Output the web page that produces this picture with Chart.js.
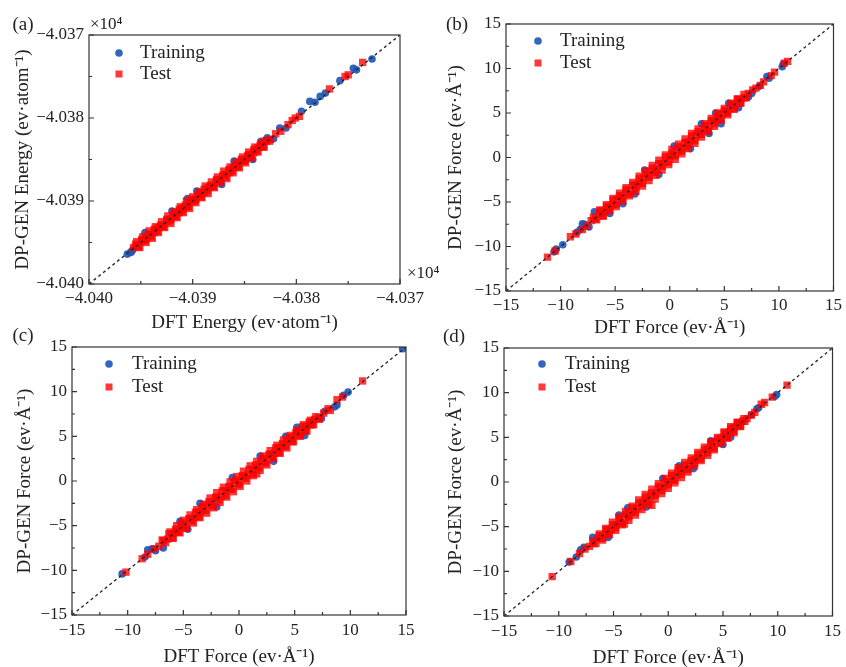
<!DOCTYPE html>
<html>
<head>
<meta charset="utf-8">
<script src="https://cdn.jsdelivr.net/npm/chart.js@4.4.0/dist/chart.umd.min.js"></script>
<style>
  body { margin: 0; background: #fff; }
  #wrap { position: relative; width: 846px; height: 667px; overflow: hidden; background: #fff; }
  canvas { position: absolute; }
</style>
</head>
<body>
<div id="wrap">
  <canvas id="pa" width="445" height="340" style="left:0;top:0"></canvas>
  <canvas id="pb" width="416" height="340" style="left:430px;top:0"></canvas>
  <canvas id="pc" width="430" height="349" style="left:0;top:318px"></canvas>
  <canvas id="pd" width="416" height="349" style="left:430px;top:318px"></canvas>
</div>
<script>
const seriesNames = ['Training', 'Test'];
const panelTags = ['(a)', '(b)', '(c)', '(d)'];

const energyTicks = [-40400, -40390, -40380, -40370];
const energyMinor = [-40395, -40385, -40375];
const forceTicks = [-15, -10, -5, 0, 5, 10, 15];
const forceMinor = [-12.5, -7.5, -2.5, 2.5, 7.5, 12.5];

const energyTitleX = 'DFT Energy (ev·atom⁻¹)';
const energyTitleY = 'DP-GEN Energy (ev·atom⁻¹)';
const forceTitleX = 'DFT Force (ev·Å⁻¹)';
const forceTitleY = 'DP-GEN Force (ev·Å⁻¹)';

// (a) energies, eV/atom (axis shows them in units of 10^4)
const energyTrain = [
  [-40396.3,-40396.4],[-40396.0,-40396.2],[-40395.8,-40395.9],[-40395.9,-40396.1],
  [-40394.6,-40393.8],[-40392.0,-40391.2],[-40390.5,-40389.7],[-40389.6,-40388.8],
  [-40387.2,-40388.0],[-40386.0,-40385.2],[-40384.2,-40385.0],[-40383.4,-40382.8],
  [-40382.8,-40382.4],[-40382.2,-40382.5],[-40381.6,-40381.2],[-40381.0,-40381.2],
  [-40379.5,-40379.2],[-40378.7,-40378.0],[-40378.2,-40378.1],[-40377.7,-40377.4],
  [-40377.2,-40377.0],[-40375.8,-40375.5],[-40374.5,-40374.0],[-40374.2,-40374.2],
  [-40372.7,-40372.9]
];
const energyTest = [
  [-40395.7,-40395.6],[-40395.3,-40395.4],[-40394.9,-40394.8],[-40394.5,-40394.6],[-40394.1,-40394.0],
  [-40393.7,-40393.8],[-40393.3,-40393.2],[-40392.9,-40393.0],[-40392.5,-40392.4],[-40392.1,-40392.2],
  [-40391.7,-40391.6],[-40391.3,-40391.4],[-40390.9,-40390.8],[-40390.5,-40390.6],[-40390.1,-40390.0],
  [-40389.7,-40389.8],[-40389.3,-40389.2],[-40388.9,-40389.0],[-40388.5,-40388.4],[-40388.1,-40388.2],
  [-40387.7,-40387.6],[-40387.3,-40387.4],[-40386.9,-40386.8],[-40386.5,-40386.6],[-40386.1,-40386.0],
  [-40385.7,-40385.8],[-40385.3,-40385.2],[-40384.9,-40385.0],[-40384.5,-40384.4],[-40384.1,-40384.2],
  [-40383.7,-40383.6],[-40383.3,-40383.4],[-40382.9,-40382.8],[-40382.5,-40382.6],
  [-40395.4,-40394.9],[-40394.8,-40394.3],[-40394.2,-40393.6],[-40393.6,-40393.1],[-40393.0,-40392.5],
  [-40392.4,-40391.8],[-40391.8,-40391.3],[-40391.2,-40390.7],[-40390.6,-40390.0],[-40390.0,-40389.5],
  [-40389.4,-40388.9],[-40388.8,-40388.2],[-40388.2,-40387.7],[-40387.6,-40387.1],[-40387.0,-40386.4],
  [-40386.4,-40385.9],[-40385.8,-40385.3],[-40385.2,-40384.7],[-40384.6,-40384.1],[-40384.0,-40383.5],
  [-40383.4,-40383.0],
  [-40395.1,-40395.6],[-40394.5,-40395.0],[-40393.9,-40394.5],[-40393.3,-40393.8],[-40392.7,-40393.2],
  [-40392.1,-40392.7],[-40391.5,-40392.0],[-40390.9,-40391.4],[-40390.3,-40390.9],[-40389.7,-40390.2],
  [-40389.1,-40389.6],[-40388.5,-40389.1],[-40387.9,-40388.4],[-40387.3,-40387.8],[-40386.7,-40387.3],
  [-40386.1,-40386.6],[-40385.5,-40386.0],[-40384.9,-40385.4],[-40384.3,-40384.8],[-40383.7,-40384.1],
  [-40383.1,-40383.5],
  [-40395.5,-40395.2],[-40394.9,-40394.6],[-40394.3,-40394.1],[-40393.7,-40393.4],[-40393.1,-40392.9],
  [-40392.5,-40392.2],[-40391.9,-40391.7],[-40391.3,-40391.0],[-40390.7,-40390.5],[-40390.1,-40389.8],
  [-40389.5,-40389.3],[-40388.9,-40388.6],[-40388.3,-40388.1],[-40387.7,-40387.4],[-40387.1,-40386.9],
  [-40386.5,-40386.2],[-40385.9,-40385.7],[-40385.3,-40385.0],[-40384.7,-40384.5],[-40384.1,-40383.8],
  [-40383.5,-40383.3],[-40382.9,-40382.7],
  [-40395.2,-40395.5],[-40394.6,-40394.8],[-40394.0,-40394.3],[-40393.4,-40393.6],[-40392.8,-40393.1],
  [-40392.2,-40392.4],[-40391.6,-40391.9],[-40391.0,-40391.2],[-40390.4,-40390.7],[-40389.8,-40390.0],
  [-40389.2,-40389.5],[-40388.6,-40388.8],[-40388.0,-40388.3],[-40387.4,-40387.6],[-40386.8,-40387.1],
  [-40386.2,-40386.4],[-40385.6,-40385.9],[-40385.0,-40385.2],[-40384.4,-40384.7],[-40383.8,-40384.0],
  [-40383.2,-40383.5],[-40382.6,-40382.8],
  [-40382.0,-40381.9],[-40381.5,-40381.6],[-40380.8,-40380.8],[-40380.4,-40380.3],[-40380.1,-40380.0],
  [-40379.7,-40379.8],[-40376.8,-40376.5],[-40375.3,-40375.0],[-40375.0,-40374.8],[-40373.6,-40373.3]
];

// (b) forces
const forceBTrain = [
  [-10.6,-10.6],[-10.4,-10.3],[-9.8,-9.8],[-8.5,-8.4],[-8.2,-8.1],[-8.0,-7.45],[-7.8,-7.5],
  [-7.4,-7.8],[-6.9,-6.1],[-5.5,-6.3],[-4.3,-5.2],[-3.2,-4.1],[-2.3,-1.4],[-1.0,-1.9],
  [0.4,1.3],[1.9,1.0],[2.9,3.8],[3.6,2.7],[4.7,3.8],[4.2,5.0],[5.4,6.1],[6.3,5.6],
  [7.2,6.8],[7.5,7.2],[8.2,8.0],[8.9,9.1],[9.1,8.9],[10.3,10.2],[10.4,10.5]
];
const forceBTest = [
  [-7.6,-7.7],[-7.2,-7.1],[-6.8,-6.9],[-6.4,-6.3],[-6.0,-6.1],[-5.6,-5.5],[-5.2,-5.3],[-4.8,-4.7],
  [-4.4,-4.5],[-4.0,-3.9],[-3.6,-3.7],[-3.2,-3.1],[-2.8,-2.9],[-2.4,-2.3],[-2.0,-2.1],[-1.6,-1.5],
  [-1.2,-1.3],[-0.8,-0.7],[-0.4,-0.5],[0.0,0.1],[0.4,0.3],[0.8,0.9],[1.2,1.1],[1.6,1.7],
  [2.0,1.9],[2.4,2.5],[2.8,2.7],[3.2,3.3],[3.6,3.5],[4.0,4.1],[4.4,4.3],[4.8,4.9],
  [5.2,5.1],[5.6,5.7],[6.0,5.9],[6.4,6.5],[6.8,6.7],[7.2,7.2],
  [-6.4,-5.9],[-5.8,-5.3],[-5.2,-4.6],[-4.6,-4.0],[-4.0,-3.4],[-3.4,-2.8],[-2.8,-2.1],[-2.2,-1.5],
  [-1.6,-0.9],[-1.0,-0.3],[-0.4,0.3],[0.2,0.9],[0.8,1.5],[1.4,2.1],[2.0,2.7],[2.6,3.2],
  [3.2,3.8],[3.8,4.4],[4.4,5.0],[5.0,5.5],[5.6,6.1],[6.2,6.6],
  [-6.1,-6.6],[-5.5,-6.0],[-4.9,-5.5],[-4.3,-4.9],[-3.7,-4.3],[-3.1,-3.8],[-2.5,-3.2],[-1.9,-2.6],
  [-1.3,-2.0],[-0.7,-1.4],[-0.1,-0.8],[0.5,-0.2],[1.1,0.4],[1.7,1.0],[2.3,1.6],[2.9,2.3],
  [3.5,2.9],[4.1,3.5],[4.7,4.2],[5.3,4.8],[5.9,5.4],[6.5,6.1],
  [-7.0,-6.7],[-6.4,-6.0],[-5.8,-5.5],[-5.2,-4.8],[-4.6,-4.3],[-4.0,-3.6],[-3.4,-3.1],[-2.8,-2.4],
  [-2.2,-1.9],[-1.6,-1.2],[-1.0,-0.7],[-0.4,0.0],[0.2,0.5],[0.8,1.2],[1.4,1.7],[2.0,2.4],
  [2.6,2.9],[3.2,3.6],[3.8,4.1],[4.4,4.8],[5.0,5.3],[5.6,6.0],[6.2,6.5],[6.8,7.1],
  [-6.7,-7.0],[-6.1,-6.5],[-5.5,-5.8],[-4.9,-5.3],[-4.3,-4.6],[-3.7,-4.1],[-3.1,-3.4],[-2.5,-2.9],
  [-1.9,-2.2],[-1.3,-1.7],[-0.7,-1.0],[-0.1,-0.5],[0.5,0.2],[1.1,0.7],[1.7,1.4],[2.3,1.9],
  [2.9,2.6],[3.5,3.1],[4.1,3.8],[4.7,4.3],[5.3,5.0],[5.9,5.5],[6.5,6.2],[7.0,6.7],
  [-11.2,-11.2],[-10.5,-10.5],[-9.1,-8.9],[-8.6,-8.6],[-8.0,-8.1],[7.6,7.6],[7.9,7.8],
  [8.3,8.1],[8.6,8.5],[9.3,9.2],[9.6,9.6],[10.5,10.6],[10.8,10.8]
];

// (c) forces
const forceCTrain = [
  [14.7,14.8],[9.8,9.95],[9.4,9.6],[8.8,8.5],[8.6,8.3],[5.2,6.0],[-0.6,0.4],[-3.5,-2.5],
  [-10.5,-10.4],[-8.45,-8.5],[-8.2,-7.7],[-7.8,-7.6],[-7.5,-7.8],[-6.8,-7.5],[-5.3,-4.5],
  [-4.6,-5.4],[-2.0,-2.9],[1.9,2.8],[3.1,2.2],[4.2,5.0],[5.9,5.1],[6.5,6.6],[7.4,7.0],[7.7,7.8]
];
const forceCTest = [
  [-7.2,-7.3],[-6.8,-6.7],[-6.4,-6.5],[-6.0,-5.9],[-5.6,-5.7],[-5.2,-5.1],[-4.8,-4.9],[-4.4,-4.3],
  [-4.0,-4.1],[-3.6,-3.5],[-3.2,-3.3],[-2.8,-2.7],[-2.4,-2.5],[-2.0,-1.9],[-1.6,-1.7],[-1.2,-1.1],
  [-0.8,-0.9],[-0.4,-0.3],[0.0,-0.1],[0.4,0.5],[0.8,0.7],[1.2,1.3],[1.6,1.5],[2.0,2.1],
  [2.4,2.3],[2.8,2.9],[3.2,3.1],[3.6,3.7],[4.0,3.9],[4.4,4.5],[4.8,4.7],[5.2,5.3],
  [5.6,5.5],[6.0,6.1],[6.4,6.3],[6.8,6.9],[7.2,7.1],[7.6,7.6],
  [-6.2,-5.7],[-5.6,-5.0],[-5.0,-4.4],[-4.4,-3.8],[-3.8,-3.2],[-3.2,-2.6],[-2.6,-1.9],[-2.0,-1.3],
  [-1.4,-0.7],[-0.8,-0.1],[-0.2,0.5],[0.4,1.1],[1.0,1.7],[1.6,2.2],[2.2,2.8],[2.8,3.4],
  [3.4,4.0],[4.0,4.6],[4.6,5.1],[5.2,5.7],[5.8,6.3],[6.4,6.8],
  [-5.9,-6.4],[-5.3,-5.8],[-4.7,-5.3],[-4.1,-4.7],[-3.5,-4.1],[-2.9,-3.6],[-2.3,-3.0],[-1.7,-2.4],
  [-1.1,-1.8],[-0.5,-1.2],[0.1,-0.6],[0.7,0.0],[1.3,0.6],[1.9,1.2],[2.5,1.8],[3.1,2.5],
  [3.7,3.1],[4.3,3.7],[4.9,4.4],[5.5,5.0],[6.1,5.6],[6.7,6.3],
  [-6.9,-6.6],[-6.3,-5.9],[-5.7,-5.4],[-5.1,-4.7],[-4.5,-4.2],[-3.9,-3.5],[-3.3,-3.0],[-2.7,-2.3],
  [-2.1,-1.8],[-1.5,-1.1],[-0.9,-0.6],[-0.3,0.1],[0.3,0.6],[0.9,1.3],[1.5,1.8],[2.1,2.5],
  [2.7,3.0],[3.3,3.7],[3.9,4.2],[4.5,4.9],[5.1,5.4],[5.7,6.1],[6.3,6.6],[6.9,7.2],
  [-6.6,-6.9],[-6.0,-6.4],[-5.4,-5.7],[-4.8,-5.2],[-4.2,-4.5],[-3.6,-4.0],[-3.0,-3.3],[-2.4,-2.8],
  [-1.8,-2.1],[-1.2,-1.6],[-0.6,-0.9],[0.0,-0.4],[0.6,0.3],[1.2,0.8],[1.8,1.5],[2.4,2.0],
  [3.0,2.7],[3.6,3.2],[4.2,3.9],[4.8,4.4],[5.4,5.1],[6.0,5.6],[6.6,6.3],[7.2,6.9],
  [-10.15,-10.2],[-8.7,-8.7],[-8.2,-8.2],[-7.6,-7.6],[1.6,0.8],[8.0,8.1],[8.2,7.9],
  [8.8,9.1],[9.3,9.4],[11.1,11.2]
];

// (d) forces
const forceDTrain = [
  [-9.05,-8.95],[-8.4,-8.4],[-8.0,-7.6],[-7.7,-7.3],[-6.9,-6.2],[-5.5,-6.2],[-4.5,-3.7],
  [-3.7,-2.9],[-2.0,-2.8],[-0.5,0.4],[1.0,1.8],[2.3,1.5],[3.9,4.6],[5.0,4.2],[5.7,5.0],
  [6.4,6.6],[7.6,7.5],[8.1,8.2],[8.25,8.3],[9.75,9.6],[9.9,9.8]
];
const forceDTest = [
  [-7.2,-7.2],[-6.8,-6.9],[-6.4,-6.3],[-6.0,-6.1],[-5.6,-5.5],[-5.2,-5.3],[-4.8,-4.8],[-4.4,-4.5],
  [-4.0,-3.9],[-3.6,-3.7],[-3.2,-3.2],[-2.8,-2.9],[-2.4,-2.3],[-2.0,-2.1],[-1.6,-1.6],[-1.2,-1.3],
  [-0.8,-0.7],[-0.4,-0.5],[0.0,0.0],[0.4,0.3],[0.8,0.8],[1.2,1.3],[1.6,1.5],[2.0,2.0],
  [2.4,2.5],[2.8,2.7],[3.2,3.2],[3.6,3.7],[4.0,3.9],[4.4,4.4],[4.8,4.9],[5.2,5.1],
  [5.6,5.6],[6.0,6.1],[6.4,6.3],[6.8,6.8],[7.2,7.1],
  [-6.3,-5.8],[-5.7,-5.2],[-5.1,-4.5],[-4.5,-3.9],[-3.9,-3.3],[-3.3,-2.7],[-2.7,-2.0],[-2.1,-1.4],
  [-1.5,-0.8],[-0.9,-0.2],[-0.3,0.4],[0.3,1.0],[0.9,1.6],[1.5,2.2],[2.1,2.7],[2.7,3.3],
  [3.3,3.9],[3.9,4.5],[4.5,5.0],[5.1,5.6],[5.7,6.2],[6.3,6.7],
  [-6.0,-6.5],[-5.4,-5.9],[-4.8,-5.4],[-4.2,-4.8],[-3.6,-4.3],[-3.0,-3.7],[-2.4,-3.1],[-1.8,-2.5],
  [-1.2,-1.9],[-0.6,-1.3],[0.0,-0.7],[0.6,-0.1],[1.2,0.5],[1.8,1.1],[2.4,1.8],[3.0,2.4],
  [3.6,3.0],[4.2,3.6],[4.8,4.3],[5.4,4.9],[6.0,5.5],[6.6,6.2],
  [-6.9,-6.6],[-6.3,-6.0],[-5.7,-5.3],[-5.1,-4.8],[-4.5,-4.1],[-3.9,-3.6],[-3.3,-2.9],[-2.7,-2.4],
  [-2.1,-1.7],[-1.5,-1.2],[-0.9,-0.5],[-0.3,0.0],[0.3,0.7],[0.9,1.2],[1.5,1.9],[2.1,2.4],
  [2.7,3.1],[3.3,3.6],[3.9,4.3],[4.5,4.8],[5.1,5.5],[5.7,6.0],[6.3,6.6],[6.9,7.1],
  [-6.6,-6.9],[-6.0,-6.3],[-5.4,-5.8],[-4.8,-5.1],[-4.2,-4.6],[-3.6,-3.9],[-3.0,-3.4],[-2.4,-2.7],
  [-1.8,-2.2],[-1.2,-1.5],[-0.6,-1.0],[0.0,-0.3],[0.6,0.2],[1.2,0.9],[1.8,1.4],[2.4,2.1],
  [3.0,2.6],[3.6,3.3],[4.2,3.8],[4.8,4.5],[5.4,5.0],[6.0,5.7],[6.6,6.3],[7.0,6.8],
  [-10.6,-10.6],[-8.9,-8.9],[-8.1,-8.0],[-7.6,-7.5],[-4.0,-4.7],[-1.5,-2.6],[7.6,7.5],
  [7.9,7.8],[8.5,8.7],[8.8,8.9],[9.5,9.5],[10.85,10.85]
];

const BLUE = 'rgba(32, 88, 185, 0.92)';
const RED = 'rgba(255, 0, 0, 0.78)';
const SERIF = '"Liberation Serif", "Times New Roman", serif';

Chart.defaults.font.family = SERIF;
Chart.defaults.color = '#222';

const minus = s => String(s).replace('-', '−');
const fmtForce = v => minus(v);
const fmtEnergy = v => minus((v / 1e4).toFixed(3));

// box, inward ticks, legend and free texts
const decor = {
  id: 'decor',
  afterDatasetsDraw(chart, args, o) {
    const { ctx, chartArea: a, scales: { x, y } } = chart;
    ctx.save();
    ctx.strokeStyle = '#333';
    ctx.lineWidth = 1.2;
    ctx.beginPath();
    const mark = (v, len) => {
      const px = x.getPixelForValue(v), py = y.getPixelForValue(v);
      ctx.moveTo(px, a.bottom); ctx.lineTo(px, a.bottom - len);
      ctx.moveTo(a.left, py); ctx.lineTo(a.left + len, py);
    };
    o.major.forEach(v => mark(v, 5));
    o.minor.forEach(v => mark(v, 3));
    ctx.stroke();
    ctx.strokeRect(a.left, a.top, a.width, a.height);

    // legend
    const lg = o.legend;
    ctx.font = '19px ' + SERIF;
    ctx.textBaseline = 'middle';
    ctx.textAlign = 'left';
    chart.data.datasets.filter(d => d.label).forEach((d, i) => {
      const mx = a.left + lg.dx, my = a.top + lg.dy + i * lg.gap;
      ctx.fillStyle = d.backgroundColor;
      if (d.pointStyle === 'rect') {
        ctx.fillRect(mx - 3.5, my - 3.5, 7, 7);
      } else {
        ctx.beginPath(); ctx.arc(mx, my, 3.8, 0, Math.PI * 2); ctx.fill();
      }
      ctx.fillStyle = '#222';
      ctx.fillText(d.label, mx + lg.textGap, my);
    });

    o.texts.forEach(t => {
      ctx.font = t.size + 'px ' + SERIF;
      ctx.textAlign = t.align || 'center';
      ctx.fillStyle = '#222';
      ctx.fillText(t.text, t.x, t.y);
    });
    ctx.restore();
  }
};

function axis(pos, ticks, fmt, title, size, titlePad, tickPad) {
  return {
    type: 'linear',
    position: pos,
    min: ticks[0],
    max: ticks[ticks.length - 1],
    afterBuildTicks: s => { s.ticks = ticks.map(v => ({ value: v })); },
    afterFit: s => { if (pos === 'left') s.width = size; else s.height = size; },
    grid: { display: false, drawTicks: false },
    border: { display: false },
    ticks: { padding: tickPad, font: { size: 17 }, color: '#222', callback: fmt },
    title: {
      display: true, text: title, color: '#222',
      font: { size: 19, lineHeight: 1 },
      padding: { top: titlePad, bottom: titlePad }
    }
  };
}

function panel(id, p) {
  const lo = p.ticks[0], hi = p.ticks[p.ticks.length - 1];
  return new Chart(document.getElementById(id), {
    type: 'scatter',
    data: {
      datasets: [
        { label: seriesNames[0], data: p.train.map(q => ({ x: q[0], y: q[1] })),
          pointStyle: 'circle', pointRadius: 3.8, backgroundColor: BLUE, borderWidth: 0, order: 2 },
        { label: seriesNames[1], data: p.test.map(q => ({ x: q[0], y: q[1] })),
          pointStyle: 'rect', pointRadius: 5.2, backgroundColor: RED, borderWidth: 0, order: 1 },
        { data: [{ x: lo, y: lo }, { x: hi, y: hi }], showLine: true, borderColor: '#222',
          borderWidth: 1.3, borderDash: [3, 3], pointRadius: 0, order: 0 }
      ]
    },
    options: {
      responsive: false,
      animation: false,
      events: [],
      layout: { padding: { top: p.padTop, right: p.padRight, left: 0, bottom: 0 } },
      scales: {
        x: axis('bottom', p.ticks, p.fmt, p.titleX, p.xSize, p.xTitlePad, p.xTickPad),
        y: axis('left', p.ticks, p.fmt, p.titleY, p.ySize, p.yTitlePad, 5)
      },
      plugins: {
        legend: { display: false },
        tooltip: { enabled: false },
        decor: { major: p.ticks, minor: p.minor, legend: p.legend, texts: p.texts }
      }
    },
    plugins: [decor]
  });
}

panel('pa', {
  train: energyTrain, test: energyTest, ticks: energyTicks, minor: energyMinor, fmt: fmtEnergy,
  titleX: energyTitleX, titleY: energyTitleY,
  padTop: 35, padRight: 45, ySize: 89, xSize: 56, yTitlePad: 13.5, xTitlePad: 7.5, xTickPad: 4,
  legend: { dx: 30, dy: 18, gap: 21, textGap: 21 },
  texts: [
    { text: panelTags[0], x: 23, y: 25, size: 19 },
    { text: '×10⁴', x: 90, y: 25, size: 17, align: 'left' },
    { text: '×10⁴', x: 407, y: 274, size: 17, align: 'left' }
  ]
});

panel('pb', {
  train: forceBTrain, test: forceBTest, ticks: forceTicks, minor: forceMinor, fmt: fmtForce,
  titleX: forceTitleX, titleY: forceTitleY,
  padTop: 24, padRight: 9, ySize: 76, xSize: 49, yTitlePad: 16.5, xTitlePad: 2.5, xTickPad: 4,
  legend: { dx: 32, dy: 17, gap: 22, textGap: 22 },
  texts: [{ text: panelTags[1], x: 27, y: 25, size: 19 }]
});

panel('pc', {
  train: forceCTrain, test: forceCTest, ticks: forceTicks, minor: forceMinor, fmt: fmtForce,
  titleX: forceTitleX, titleY: forceTitleY,
  padTop: 29, padRight: 24, ySize: 72, xSize: 52, yTitlePad: 15.5, xTitlePad: 0.8, xTickPad: 5,
  legend: { dx: 37, dy: 17, gap: 23, textGap: 23 },
  texts: [{ text: panelTags[2], x: 23, y: 18, size: 19 }]
});

panel('pd', {
  train: forceDTrain, test: forceDTest, ticks: forceTicks, minor: forceMinor, fmt: fmtForce,
  titleX: forceTitleX, titleY: forceTitleY,
  padTop: 30, padRight: 9, ySize: 74, xSize: 51, yTitlePad: 16.5, xTitlePad: -0.5, xTickPad: 5,
  legend: { dx: 38, dy: 16, gap: 23, textGap: 23 },
  texts: [{ text: panelTags[3], x: 24, y: 19, size: 19 }]
});
</script>
</body>
</html>
